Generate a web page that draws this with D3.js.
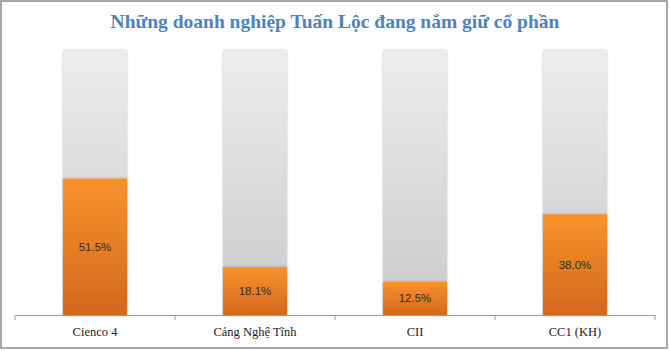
<!DOCTYPE html>
<html>
<head>
<meta charset="utf-8">
<script src="https://cdn.jsdelivr.net/npm/d3@7"></script>
<style>
  body { margin: 0; background: #fff; }
  svg { display: block; }
</style>
</head>
<body>
<svg width="670" height="351"></svg>
<script>
// data
const companies = ['Cienco 4', 'Cảng Nghệ Tĩnh', 'CII', 'CC1 (KH)']
const shares = [51.5, 18.1, 12.5, 38.0]
const fullShare = [100, 100, 100, 100]

const svg = d3.select('svg')
const margin = {top: 50, right: 15, bottom: 36, left: 15}
const width = 670 - margin.left - margin.right
const height = 351 - margin.top - margin.bottom

// frame around the chart
svg.append('rect')
  .attr('x', 1).attr('y', 1)
  .attr('width', 666).attr('height', 347)
  .attr('fill', '#fff')
  .attr('stroke', '#8c8c8c')
  .attr('stroke-width', 1.5)

const defs = svg.append('defs')
const greyGrad = defs.append('linearGradient')
  .attr('id', 'grey').attr('x1', 0).attr('y1', 0).attr('x2', 0).attr('y2', 1)
greyGrad.append('stop').attr('offset', '0%').attr('stop-color', '#ededed')
greyGrad.append('stop').attr('offset', '100%').attr('stop-color', '#c9c9c9')

const orangeGrad = defs.append('linearGradient')
  .attr('id', 'orange').attr('x1', 0).attr('y1', 0).attr('x2', 0).attr('y2', 1)
orangeGrad.append('stop').attr('offset', '0%').attr('stop-color', '#fa922c')
orangeGrad.append('stop').attr('offset', '100%').attr('stop-color', '#d4671d')

// soft shadow like the office chart style
const shadow = defs.append('filter').attr('id', 'shadow')
  .attr('x', '-20%').attr('y', '-20%').attr('width', '140%').attr('height', '140%')
shadow.append('feGaussianBlur').attr('in', 'SourceAlpha').attr('stdDeviation', 1.2)
shadow.append('feComponentTransfer').append('feFuncA').attr('type', 'linear').attr('slope', 0.25)
const merge = shadow.append('feMerge')
merge.append('feMergeNode')
merge.append('feMergeNode').attr('in', 'SourceGraphic')

svg.append('text')
  .attr('x', 335).attr('y', 28)
  .attr('text-anchor', 'middle')
  .attr('font-family', 'Liberation Serif, serif')
  .attr('font-weight', 'bold')
  .attr('font-size', 19.5)
  .attr('fill', '#4f81bd')
  .text('Những doanh nghiệp Tuấn Lộc đang nắm giữ cổ phần')

const group = svg.append('g')
  .attr('transform', 'translate(' + margin.left + ',' + margin.top + ')')

const x = d3.scaleBand().domain(companies).range([0, width]).paddingInner(0.6).paddingOuter(0.3)
const y = d3.scaleLinear().domain([0, 100]).range([height, 0])

// grey background bars (100%)
group.selectAll('.bg')
  .data(fullShare)
  .enter()
  .append('rect')
    .attr('class', 'bg')
    .attr('x', (d, i) => x(companies[i]))
    .attr('y', d => y(d))
    .attr('width', x.bandwidth())
    .attr('height', d => height - y(d))
    .attr('rx', 2)
    .attr('fill', 'url(#grey)')
    .attr('filter', 'url(#shadow)')

// orange share bars
group.selectAll('.bar')
  .data(shares)
  .enter()
  .append('rect')
    .attr('class', 'bar')
    .attr('x', (d, i) => x(companies[i]))
    .attr('y', d => y(d))
    .attr('width', x.bandwidth())
    .attr('height', d => height - y(d))
    .attr('fill', 'url(#orange)')
    .attr('filter', 'url(#shadow)')

group.selectAll('.label')
  .data(shares)
  .enter()
  .append('text')
    .attr('class', 'label')
    .attr('x', (d, i) => x(companies[i]) + x.bandwidth() / 2)
    .attr('y', d => (y(d) + height) / 2 + 4)
    .attr('text-anchor', 'middle')
    .attr('font-family', 'Liberation Sans, Arial, sans-serif')
    .attr('font-size', 11.5)
    .attr('fill', '#3a2a1a')
    .text(d => d.toFixed(1) + '%')

// x axis, ticks sit on the band edges
const axis = group.append('g')
  .attr('class', 'axis axis-x')
  .attr('transform', 'translate(0,' + height + ')')
  .call(d3.axisBottom(x).tickSize(0).tickPadding(12))
axis.select('.domain').attr('stroke', '#999').attr('stroke-width', 1)
axis.selectAll('text')
  .attr('font-family', 'Liberation Serif, serif')
  .attr('font-size', 12.5)
  .attr('fill', '#222')
axis.selectAll('.edge')
  .data(d3.range(companies.length + 1))
  .enter()
  .append('line')
    .attr('class', 'edge')
    .attr('x1', i => i * width / companies.length)
    .attr('x2', i => i * width / companies.length)
    .attr('y1', 0).attr('y2', 5)
    .attr('stroke', '#999')
</script>
</body>
</html>
